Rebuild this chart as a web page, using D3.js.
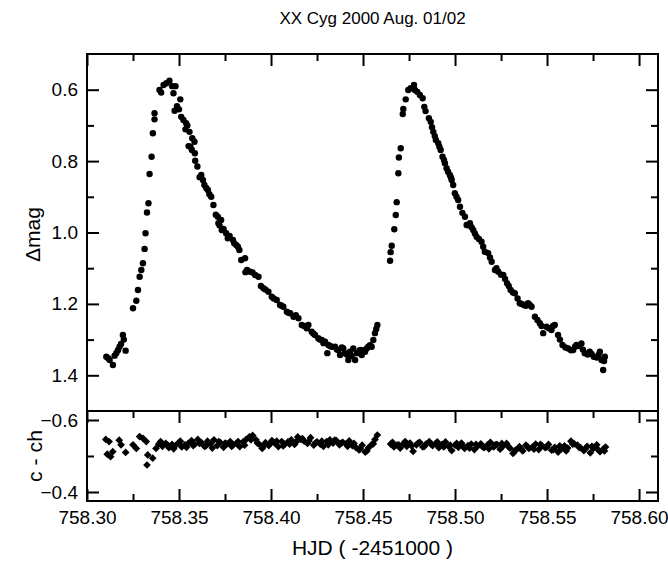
<!DOCTYPE html>
<html>
<head>
<meta charset="utf-8">
<script src="https://cdn.jsdelivr.net/npm/d3@7/dist/d3.min.js"></script>
<style>
  body { margin: 0; background: #fff; }
  text { font-family: "Liberation Sans", Arial, sans-serif; fill: #000; }
  .frame { fill: none; stroke: #000; stroke-width: 2px; }
  .tick line { stroke: #000; stroke-width: 2px; }
</style>
</head>
<body>
<script>
// XX Cyg light curve, HJD - 2451000
const hjd = [
  758.3105, 758.3123, 758.3141, 758.3159, 758.3177, 758.3195, 758.3210, 758.3250, 758.3268, 758.3277,
  758.3286, 758.3295, 758.3304, 758.3313, 758.3318, 758.3326, 758.3334, 758.3340, 758.3351, 758.3358,
  758.3367, 758.3367, 758.3394, 758.3403, 758.3416, 758.3431, 758.3448, 758.3463, 758.3470, 758.3481,
  758.3476, 758.3489, 758.3507, 758.3512, 758.3524, 758.3535, 758.3539, 758.3552, 758.3557, 758.3570,
  758.3572, 758.3584, 758.3586, 758.3588, 758.3621, 758.3630, 758.3638, 758.3657, 758.3675, 758.3687,
  758.3711, 758.3714, 758.3729, 758.3732, 758.3756, 758.3765, 758.3793, 758.3811, 758.3828, 758.3838,
  758.3859, 758.3861, 758.3887, 758.3914, 758.3932, 758.3959, 758.3986, 758.4004, 758.4031, 758.4049,
  758.4067, 758.4086, 758.4104, 758.4122, 758.4149, 758.4167, 758.4194, 758.4203, 758.4221, 758.4239,
  758.4257, 758.4276, 758.4294, 758.4306, 758.4312, 758.4330, 758.4348, 758.4366, 758.4375, 758.4393,
  758.4402, 758.4420, 758.4429, 758.4447, 758.4457, 758.4466, 758.4484, 758.4493, 758.4511, 758.4529,
  758.4547, 758.4556, 758.4565, 758.4578,
  758.3115, 758.3150, 758.3168, 758.3185, 758.3200,
  758.3500, 758.3545, 758.3562, 758.3600, 758.3612, 758.3648, 758.3665, 758.3700, 758.3720, 758.3742,
  758.3775, 758.3800, 758.3820, 758.3870, 758.3900, 758.3945, 758.3970, 758.4015, 758.4058, 758.4095,
  758.4135, 758.4180, 758.4230, 758.4265, 758.4285, 758.4320, 758.4358, 758.4385, 758.4412, 758.4438,
  758.4475, 758.4500, 758.4520, 758.4538, 758.4572,
  758.4647, 758.4650, 758.4656, 758.4670, 758.4678, 758.4683, 758.4692, 758.4695, 758.4705, 758.4716,
  758.4719, 758.4732, 758.4746, 758.4759, 758.4777, 758.4782, 758.4795, 758.4809, 758.4824, 758.4833,
  758.4868, 758.4882, 758.4896, 758.4909, 758.4922, 758.4932, 758.4945, 758.4954, 758.4972, 758.4982,
  758.4990, 758.4999, 758.5017, 758.5027, 758.5054, 758.5063, 758.5081, 758.5099, 758.5117, 758.5144,
  758.5162, 758.5180, 758.5199, 758.5217, 758.5235, 758.5262, 758.5283, 758.5302, 758.5325, 758.5352,
  758.5374, 758.5397, 758.5416, 758.5434, 758.5461, 758.5479, 758.5497, 758.5524, 758.5542, 758.5560,
  758.5584, 758.5615, 758.5642, 758.5660, 758.5687, 758.5705, 758.5732, 758.5754, 758.5787, 758.5796,
  758.5814, 758.5805,
  758.4840, 758.4858, 758.4875, 758.4890, 758.4915, 758.4940, 758.4962, 758.4978, 758.5008, 758.5040,
  758.5072, 758.5090, 758.5108, 758.5130, 758.5153, 758.5190, 758.5225, 758.5250, 758.5272, 758.5292,
  758.5315, 758.5340, 758.5362, 758.5385, 758.5407, 758.5448, 758.5470, 758.5510, 758.5533, 758.5570,
  758.5600, 758.5630, 758.5652, 758.5675, 758.5695, 758.5720, 758.5742, 758.5770, 758.5780, 758.5810
];
const dmag = [
  1.348, 1.357, 1.371, 1.338, 1.320, 1.287, 1.331, 1.212, 1.191, 1.161,
  1.124, 1.105, 1.086, 1.046, 1.002, 0.944, 0.918, 0.836, 0.788, 0.722,
  0.683, 0.666, 0.601, 0.608, 0.587, 0.582, 0.575, 0.590, 0.610, 0.590,
  0.659, 0.646, 0.627, 0.676, 0.685, 0.711, 0.694, 0.758, 0.718, 0.769,
  0.736, 0.746, 0.778, 0.799, 0.839, 0.853, 0.867, 0.881, 0.900, 0.923,
  0.956, 0.974, 0.965, 0.993, 1.002, 1.016, 1.021, 1.035, 1.049, 1.077,
  1.072, 1.111, 1.110, 1.119, 1.124, 1.156, 1.166, 1.180, 1.189, 1.203,
  1.208, 1.222, 1.226, 1.236, 1.240, 1.259, 1.268, 1.259, 1.278, 1.287,
  1.296, 1.301, 1.306, 1.338, 1.315, 1.320, 1.320, 1.329, 1.343, 1.325,
  1.338, 1.357, 1.334, 1.325, 1.357, 1.338, 1.329, 1.343, 1.334, 1.320,
  1.320, 1.301, 1.282, 1.259,
  1.352, 1.345, 1.330, 1.312, 1.300,
  0.655, 0.700, 0.760, 0.815, 0.845, 0.875, 0.893, 0.950, 0.980, 0.990,
  1.010, 1.030, 1.040, 1.105, 1.112, 1.150, 1.160, 1.185, 1.205, 1.225,
  1.232, 1.262, 1.283, 1.300, 1.310, 1.318, 1.328, 1.322, 1.342, 1.346,
  1.335, 1.330, 1.325, 1.316, 1.270,
  1.079, 1.055, 1.037, 0.991, 0.951, 0.915, 0.834, 0.790, 0.764, 0.668,
  0.654, 0.627, 0.601, 0.596, 0.587, 0.601, 0.606, 0.615, 0.624, 0.648,
  0.690, 0.718, 0.741, 0.750, 0.769, 0.788, 0.806, 0.820, 0.839, 0.853,
  0.867, 0.890, 0.909, 0.928, 0.956, 0.979, 0.974, 0.993, 1.012, 1.026,
  1.054, 1.058, 1.082, 1.105, 1.110, 1.119, 1.142, 1.161, 1.170, 1.198,
  1.203, 1.198, 1.208, 1.236, 1.254, 1.282, 1.264, 1.273, 1.259, 1.287,
  1.315, 1.325, 1.329, 1.315, 1.311, 1.338, 1.334, 1.348, 1.334, 1.357,
  1.348, 1.385,
  0.660, 0.680, 0.705, 0.730, 0.760, 0.797, 0.830, 0.846, 0.900, 0.945,
  0.980, 0.985, 1.003, 1.018, 1.040, 1.070, 1.100, 1.118, 1.130, 1.150,
  1.168, 1.185, 1.200, 1.205, 1.203, 1.245, 1.262, 1.268, 1.262, 1.300,
  1.322, 1.330, 1.320, 1.318, 1.328, 1.342, 1.340, 1.350, 1.343, 1.360
];

// check - comparison star
const cchHjd = [
  758.3102, 758.3110, 758.3120, 758.3128, 758.3140, 758.3175, 758.3185, 758.3210, 758.3250, 758.3268,
  758.3286, 758.3304, 758.3322, 758.3330, 758.3326, 758.3357, 758.3375,
  758.3390, 758.3410, 758.3428, 758.3445, 758.3462, 758.3480, 758.3498, 758.3515, 758.3532, 758.3550,
  758.3568, 758.3585, 758.3602, 758.3620, 758.3638, 758.3655, 758.3672, 758.3690, 758.3708, 758.3725,
  758.3742, 758.3760, 758.3778, 758.3795, 758.3812, 758.3830, 758.3848, 758.3865, 758.3882, 758.3900,
  758.3918, 758.3935, 758.3952, 758.3970, 758.3988, 758.4005, 758.4022, 758.4040, 758.4058, 758.4075,
  758.4092, 758.4110, 758.4128, 758.4145, 758.4162, 758.4180, 758.4198, 758.4215, 758.4232, 758.4250,
  758.4268, 758.4285, 758.4302, 758.4320, 758.4338, 758.4355, 758.4372, 758.4390, 758.4408, 758.4425,
  758.4442, 758.4460, 758.4478, 758.4495, 758.4512, 758.4530, 758.4548, 758.4565, 758.4578,
  758.4650, 758.4668, 758.4685, 758.4702, 758.4720, 758.4738, 758.4755, 758.4772, 758.4790, 758.4808,
  758.4825, 758.4842, 758.4860, 758.4878, 758.4895, 758.4912, 758.4930, 758.4948, 758.4965, 758.4982,
  758.5000, 758.5018, 758.5035, 758.5052, 758.5070, 758.5088, 758.5105, 758.5122, 758.5140, 758.5158,
  758.5175, 758.5192, 758.5210, 758.5228, 758.5245, 758.5262, 758.5280, 758.5298, 758.5315, 758.5332,
  758.5350, 758.5368, 758.5385, 758.5402, 758.5420, 758.5438, 758.5455, 758.5472, 758.5490, 758.5508,
  758.5525, 758.5542, 758.5560, 758.5578, 758.5595, 758.5612, 758.5630, 758.5648, 758.5665, 758.5682,
  758.5700, 758.5718, 758.5735, 758.5752, 758.5770, 758.5788, 758.5805, 758.5818,
  758.3400, 758.3437, 758.3471, 758.3507, 758.3541, 758.3577, 758.3611, 758.3646, 758.3681, 758.3716,
  758.3751, 758.3786, 758.3821, 758.3856, 758.3891, 758.3926, 758.3961, 758.3996, 758.4031, 758.4066,
  758.4101, 758.4136, 758.4171, 758.4206, 758.4241, 758.4276, 758.4311, 758.4346, 758.4381, 758.4416,
  758.4451, 758.4486, 758.4521, 758.4556,
  758.4660, 758.4694, 758.4729, 758.4764, 758.4799, 758.4834, 758.4869, 758.4904, 758.4939, 758.4974,
  758.5009, 758.5044, 758.5079, 758.5114, 758.5149, 758.5184, 758.5219, 758.5254, 758.5289, 758.5324,
  758.5359, 758.5394, 758.5429, 758.5464, 758.5499, 758.5534, 758.5569, 758.5604, 758.5639, 758.5674,
  758.5709, 758.5744, 758.5779, 758.5812
];
const cch = [
  -0.546, -0.505, -0.540, -0.498, -0.512, -0.544, -0.531, -0.510, -0.531, -0.521,
  -0.554, -0.549, -0.540, -0.503, -0.475, -0.494, -0.521,
  -0.533, -0.527, -0.535, -0.523, -0.532, -0.529, -0.537, -0.525, -0.531, -0.535,
  -0.543, -0.532, -0.546, -0.538, -0.527, -0.541, -0.534, -0.545, -0.529, -0.537,
  -0.524, -0.533, -0.540, -0.531, -0.535, -0.526, -0.539, -0.546, -0.553, -0.557,
  -0.545, -0.533, -0.521, -0.537, -0.529, -0.543, -0.535, -0.526, -0.540, -0.533,
  -0.539, -0.545, -0.532, -0.553, -0.546, -0.541, -0.535, -0.551, -0.530, -0.539,
  -0.533, -0.527, -0.540, -0.545, -0.536, -0.543, -0.531, -0.538, -0.534, -0.542,
  -0.529, -0.524, -0.517, -0.530, -0.511, -0.523, -0.532, -0.546, -0.558,
  -0.533, -0.525, -0.530, -0.522, -0.534, -0.527, -0.536, -0.513, -0.531, -0.538,
  -0.525, -0.533, -0.540, -0.529, -0.535, -0.523, -0.532, -0.539, -0.527, -0.515,
  -0.530, -0.524, -0.536, -0.521, -0.529, -0.533, -0.518, -0.527, -0.534, -0.523,
  -0.530, -0.538, -0.525, -0.532, -0.519, -0.528, -0.535, -0.522, -0.507, -0.517,
  -0.526, -0.514, -0.530, -0.521, -0.525, -0.533, -0.518, -0.529, -0.523, -0.532,
  -0.516, -0.524, -0.511, -0.520, -0.528, -0.522, -0.541, -0.534, -0.530, -0.523,
  -0.515, -0.527, -0.509, -0.521, -0.531, -0.512, -0.519, -0.525,
  -0.540, -0.531, -0.520, -0.541, -0.524, -0.529, -0.535, -0.528, -0.522, -0.540,
  -0.536, -0.527, -0.540, -0.530, -0.545, -0.536, -0.528, -0.535, -0.541, -0.528,
  -0.533, -0.539, -0.548, -0.542, -0.536, -0.541, -0.531, -0.544, -0.536, -0.527,
  -0.535, -0.520, -0.514, -0.534,
  -0.538, -0.531, -0.540, -0.528, -0.536, -0.527, -0.533, -0.539, -0.525, -0.530,
  -0.535, -0.527, -0.522, -0.532, -0.526, -0.520, -0.531, -0.535, -0.527, -0.514,
  -0.520, -0.526, -0.519, -0.532, -0.525, -0.518, -0.528, -0.514, -0.533, -0.524,
  -0.520, -0.527, -0.517, -0.514
];

const xMajor = [758.30, 758.35, 758.40, 758.45, 758.50, 758.55, 758.60];
const xMinor = [758.325, 758.375, 758.425, 758.475, 758.525, 758.575];
const magMajor = [0.6, 0.8, 1.0, 1.2, 1.4];
const magMinor = [0.7, 0.9, 1.1, 1.3];
const cchMajor = [-0.6, -0.4];
const cchMinor = [-0.5];

const width = 668, height = 565;
const left = 87, right = 658, top1 = 54, bot1 = 411, bot2 = 501;
const major = 12, minor = 7;

const svg = d3.select('body').append('svg')
  .attr('width', width)
  .attr('height', height);

const x = d3.scaleLinear().domain([758.30, 758.6103]).range([left, right]);
const yMag = d3.scaleLinear().domain([0.5, 1.5]).range([top1, bot1]);
const yCch = d3.scaleLinear().domain([-0.625, -0.375]).range([bot1, bot2]);

// draws one set of inward ticks, labels only when fmt given
function ticks(axisFn, scale, values, size, fmt, tx, ty, pad) {
  const a = axisFn(scale).tickValues(values).tickSize(-size).tickSizeOuter(0)
    .tickPadding(pad || 8)
    .tickFormat(fmt || (() => ''));
  const g = svg.append('g').attr('transform', `translate(${tx},${ty})`).call(a);
  g.select('.domain').remove();
  g.selectAll('text').style('font-size', '19px');
  return g;
}

// top panel
ticks(d3.axisTop, x, xMajor, major, null, 0, top1);
ticks(d3.axisTop, x, xMinor, minor, null, 0, top1);
ticks(d3.axisLeft, yMag, magMajor, major, d3.format('.1f'), left, 0, 9);
ticks(d3.axisLeft, yMag, magMinor, minor, null, left, 0);
ticks(d3.axisRight, yMag, magMajor, major, null, right, 0);
ticks(d3.axisRight, yMag, magMinor, minor, null, right, 0);

// bottom panel
ticks(d3.axisTop, x, xMajor, major, null, 0, bot1);
ticks(d3.axisTop, x, xMinor, minor, null, 0, bot1);
ticks(d3.axisBottom, x, xMajor, major, d3.format('.2f'), 0, bot2, 10);
ticks(d3.axisBottom, x, xMinor, minor, null, 0, bot2);
ticks(d3.axisLeft, yCch, cchMajor, major, d3.format('.1f'), left, 0, 9);
ticks(d3.axisLeft, yCch, cchMinor, minor, null, left, 0);
ticks(d3.axisRight, yCch, cchMajor, major, null, right, 0);
ticks(d3.axisRight, yCch, cchMinor, minor, null, right, 0);

svg.append('rect').attr('class', 'frame')
  .attr('x', left).attr('y', top1).attr('width', right - left).attr('height', bot1 - top1);
svg.append('rect').attr('class', 'frame')
  .attr('x', left).attr('y', bot1).attr('width', right - left).attr('height', bot2 - bot1);

svg.append('g').selectAll('circle')
  .data(hjd)
  .join('circle')
  .attr('cx', d => x(d))
  .attr('cy', (d, i) => yMag(dmag[i]))
  .attr('r', 3.2)
  .attr('fill', '#000');

// square turned on its corner
const diamond = d3.symbol().type(d3.symbolSquare).size(30);
svg.append('g').selectAll('path')
  .data(cchHjd)
  .join('path')
  .attr('d', diamond)
  .attr('transform', (d, i) => `translate(${x(d)},${yCch(cch[i])}) rotate(45)`)
  .attr('fill', '#000');

svg.append('text')
  .attr('x', (left + right) / 2).attr('y', 24)
  .attr('text-anchor', 'middle')
  .style('font-size', '17px')
  .text('XX Cyg 2000 Aug. 01/02');

svg.append('text')
  .attr('x', (left + right) / 2).attr('y', 555)
  .attr('text-anchor', 'middle')
  .style('font-size', '21px')
  .text('HJD ( -2451000 )');

svg.append('text')
  .attr('transform', `translate(40,${(top1 + bot1) / 2 + 2}) rotate(-90)`)
  .attr('text-anchor', 'middle')
  .attr('textLength', 55)
  .attr('lengthAdjust', 'spacingAndGlyphs')
  .style('font-size', '20px')
  .text('\u0394mag');

svg.append('text')
  .attr('transform', `translate(42,${(bot1 + bot2) / 2}) rotate(-90)`)
  .attr('text-anchor', 'middle')
  .attr('textLength', 52)
  .attr('lengthAdjust', 'spacingAndGlyphs')
  .style('font-size', '20px')
  .text('c - ch');
</script>
</body>
</html>
